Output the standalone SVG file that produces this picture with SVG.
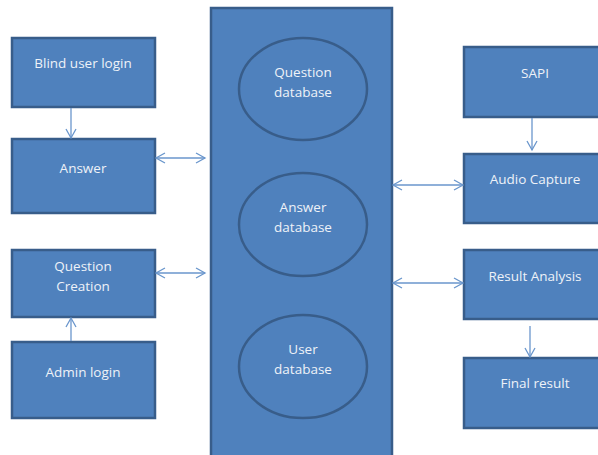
<svg xmlns="http://www.w3.org/2000/svg" width="598" height="455" viewBox="0 0 598 455">
<style>
.box{fill:#4F81BD;stroke:#385D8A;stroke-width:2.5}
.t{font-family:"Open Sans","Liberation Sans",sans-serif;font-size:13.5px;fill:#EEF2F8;text-anchor:middle}
.c{stroke:#6A96CC;stroke-width:1.3;fill:none}
</style>
<defs>
<marker id="a" markerWidth="12" markerHeight="12" refX="10" refY="6" orient="auto-start-reverse" markerUnits="userSpaceOnUse">
<path d="M1,1 L10,6 L1,11" fill="none" stroke="#6A96CC" stroke-width="1.3"/>
</marker>
</defs>
<g id="db">
<rect class="box" x="211" y="8" width="181" height="460"/>
<ellipse class="box" cx="303" cy="89" rx="64" ry="51"/>
<text class="t" x="303" y="77">Question</text>
<text class="t" x="303" y="97">database</text>
<ellipse class="box" cx="303" cy="224.5" rx="64" ry="51.5"/>
<text class="t" x="303" y="212">Answer</text>
<text class="t" x="303" y="232">database</text>
<ellipse class="box" cx="303" cy="366.5" rx="64" ry="51.5"/>
<text class="t" x="303" y="354">User</text>
<text class="t" x="303" y="374">database</text>
</g>
<g id="blind"><rect class="box" x="12" y="38" width="143" height="69"/><text class="t" x="83" y="68">Blind user login</text></g>
<g id="answer"><rect class="box" x="12" y="139" width="143" height="74"/><text class="t" x="83" y="173">Answer</text></g>
<g id="qcreate"><rect class="box" x="12" y="250" width="143" height="67"/><text class="t" x="83" y="271">Question</text><text class="t" x="83" y="291">Creation</text></g>
<g id="admin"><rect class="box" x="12" y="342" width="143" height="76"/><text class="t" x="83" y="377">Admin login</text></g>
<g id="sapi"><rect class="box" x="464" y="47" width="143" height="70"/><text class="t" x="535" y="78">SAPI</text></g>
<g id="audio"><rect class="box" x="464" y="154" width="143" height="69"/><text class="t" x="535" y="184">Audio Capture</text></g>
<g id="result"><rect class="box" x="464" y="250" width="143" height="69"/><text class="t" x="535" y="281">Result Analysis</text></g>
<g id="final"><rect class="box" x="464" y="358" width="143" height="70"/><text class="t" x="535" y="388">Final result</text></g>
<g id="connectors">
<line class="c" x1="71" y1="108" x2="71" y2="138" marker-end="url(#a)"/>
<line class="c" x1="71" y1="341" x2="71" y2="318" marker-end="url(#a)"/>
<line class="c" x1="156" y1="158" x2="205" y2="158" marker-start="url(#a)" marker-end="url(#a)"/>
<line class="c" x1="156" y1="273" x2="205" y2="273" marker-start="url(#a)" marker-end="url(#a)"/>
<line class="c" x1="393" y1="185" x2="463" y2="185" marker-start="url(#a)" marker-end="url(#a)"/>
<line class="c" x1="393" y1="283" x2="463" y2="283" marker-start="url(#a)" marker-end="url(#a)"/>
<line class="c" x1="532" y1="118" x2="532" y2="150" marker-end="url(#a)"/>
<line class="c" x1="530" y1="326" x2="530" y2="357" marker-end="url(#a)"/>
</g>
</svg>
